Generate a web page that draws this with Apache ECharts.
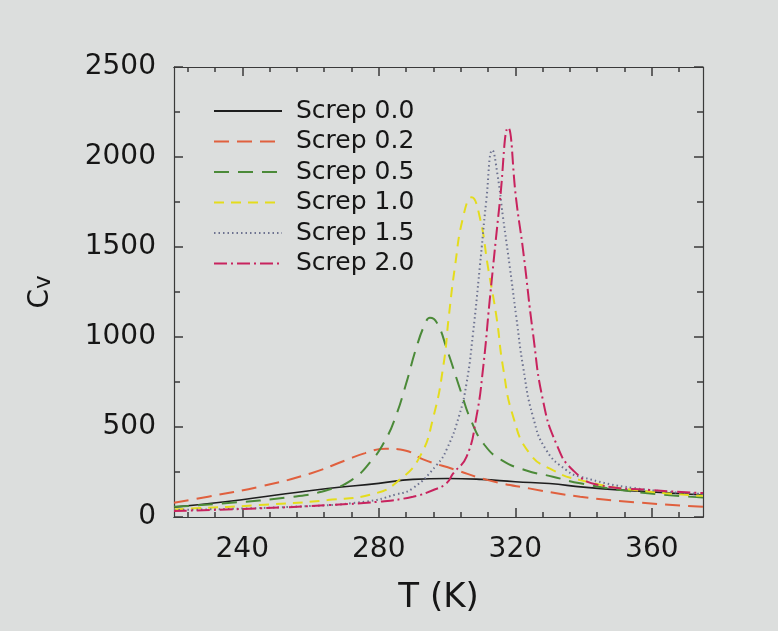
<!DOCTYPE html>
<html>
<head>
  <meta charset="utf-8" />
  <title>Cv vs T</title>
  <script src="https://cdn.jsdelivr.net/npm/echarts@6/dist/echarts.min.js"></script>
  <style>
    body { margin: 0; background: #dcdedd; }
    #chart { width: 778px; height: 631px; }
  </style>
</head>
<body>
  <div id="chart"></div>
  <script>
    // 数据: 每条曲线的温度(K)与比热 Cv
    const names = ["Screp 0.0", "Screp 0.2", "Screp 0.5", "Screp 1.0", "Screp 1.5", "Screp 2.0"]

    const T_00 = [220, 235, 250, 265, 280, 290, 300, 310, 320, 330, 340, 355, 375]
    const C_00 = [55, 85, 122, 158, 187, 209, 214, 209, 196, 186, 166, 145, 122]

    const T_02 = [220, 230, 245, 260, 270, 276, 282, 288, 293, 302, 312, 324, 339, 355, 375]
    const C_02 = [79, 113, 168, 242, 313, 355, 379, 368, 320, 265, 205, 159, 113, 82, 57]

    const T_05 = [220, 235, 255, 265, 272, 278, 282, 285, 288, 291, 293.5, 295, 297, 300, 304, 307, 311, 316, 323, 331, 339, 355, 375]
    const C_05 = [57, 76, 113, 150, 205, 316, 430, 560, 740, 940, 1070, 1107, 1080, 930, 700, 538, 400, 316, 260, 224, 187, 140, 108]

    const T_10 = [220, 226, 245, 265, 279, 286, 292, 296, 299, 300.5, 302.3, 304.7, 307.2, 309.6, 312, 314.5, 316.4, 319.4, 324.2, 331, 339, 355, 375]
    const C_10 = [42, 48, 66, 94, 131, 205, 334, 556, 850, 1110, 1388, 1665, 1776, 1665, 1388, 1110, 833, 556, 353, 260, 205, 150, 118]

    const T_15 = [220, 255, 276, 285, 290, 297, 300, 303.5, 305.7, 307.6, 309.6, 311.5, 313.3, 314.8, 316.4, 318.4, 320.3, 322.3, 325.2, 329.1, 335, 339, 355, 375]
    const C_15 = [39, 57, 85, 125, 160, 290, 380, 560, 741, 1018, 1388, 1757, 2038, 1900, 1665, 1388, 1110, 833, 556, 371, 260, 224, 160, 128]

    const T_20 = [220, 245, 265, 280, 290, 296, 299.8, 301.8, 305.7, 308.6, 310.6, 312.5, 315.5, 317.9, 320.3, 322.3, 325.2, 328.1, 332, 336.9, 344.7, 359.4, 375]
    const C_20 = [33, 48, 66, 85, 113, 150, 187, 242, 334, 556, 833, 1203, 1757, 2163, 1757, 1480, 1018, 649, 408, 260, 177, 150, 133]

    const xMajor = [240, 280, 320, 360]
    const xMinor = [224, 232, 248, 256, 264, 272, 288, 296, 304, 312, 328, 336, 344, 352, 368]

    const colors = ["#1e1e1e", "#e0603e", "#4b8a38", "#e4dc1c", "#6d7290", "#c8235e"]
    const dashes = ["solid", [15, 8], [15, 9], [10, 7], [1.5, 3], [13, 4, 2, 4]]

    const fam = "DejaVu Sans"
    const axisColor = "#3a3a3a"
    const textColor = "#161616"

    function pairs(ts, cs) {
      return ts.map((t, i) => [t, cs[i]])
    }
    const allData = [pairs(T_00, C_00), pairs(T_02, C_02), pairs(T_05, C_05), pairs(T_10, C_10), pairs(T_15, C_15), pairs(T_20, C_20)]

    function xAx(pos, ticks, len, withLabel) {
      return {
        type: "value",
        position: pos,
        min: 220,
        max: 375,
        axisLine: { show: true, lineStyle: { color: axisColor, width: 1.2 } },
        axisTick: { show: true, inside: true, length: len, customValues: ticks, lineStyle: { color: axisColor, width: 1.5 } },
        axisLabel: withLabel
          ? { show: true, customValues: xMajor, margin: 19, fontSize: 28, fontFamily: fam, color: textColor }
          : { show: false },
        splitLine: { show: false }
      }
    }

    function yAx(pos, withLabel) {
      return {
        type: "value",
        position: pos,
        min: 0,
        max: 2500,
        interval: 500,
        axisLine: { show: true, lineStyle: { color: axisColor, width: 1.2 } },
        axisTick: { show: true, inside: true, length: 9, lineStyle: { color: axisColor, width: 1.5 } },
        minorTick: { show: true, splitNumber: 2, length: 6, lineStyle: { color: axisColor, width: 1.5 } },
        axisLabel: withLabel
          ? { show: true, margin: 18, fontSize: 28, fontFamily: fam, color: textColor, formatter: (v) => String(v) }
          : { show: false },
        splitLine: { show: false }
      }
    }

    const chart = echarts.init(document.getElementById("chart"))

    const xAxes = [
      xAx("bottom", xMajor, 9, true),
      xAx("bottom", xMinor, 5, false),
      xAx("top", xMajor, 9, false),
      xAx("top", xMinor, 5, false)
    ]
    xAxes[0].name = "T (K)"
    xAxes[0].nameLocation = "middle"
    xAxes[0].nameGap = 64
    xAxes[0].nameTextStyle = { fontSize: 34, fontFamily: fam, color: textColor }

    const yAxes = [yAx("left", true), yAx("right", false)]
    yAxes[0].name = "{a|C}{b|v}"
    yAxes[0].nameLocation = "middle"
    yAxes[0].nameGap = 118
    yAxes[0].nameTextStyle = {
      fontFamily: fam,
      color: textColor,
      rich: {
        a: { fontSize: 28, fontFamily: fam, color: textColor, lineHeight: 30 },
        b: { fontSize: 23, fontFamily: fam, color: textColor, lineHeight: 22, verticalAlign: "bottom" }
      }
    }

    chart.setOption({
      backgroundColor: "#dcdedd",
      animation: false,
      grid: { left: 174, right: 75, top: 67, bottom: 114, containLabel: false },
      legend: {
        orient: "vertical",
        left: 208,
        top: 92,
        itemWidth: 68,
        itemHeight: 14,
        itemGap: 2.5,
        data: names,
        itemStyle: { opacity: 0 },
        textStyle: { fontSize: 25, fontFamily: fam, color: textColor, lineHeight: 28, padding: [0, 0, 0, 9] }
      },
      xAxis: xAxes,
      yAxis: yAxes,
      series: names.map((n, i) => ({
        name: n,
        type: "line",
        xAxisIndex: 0,
        yAxisIndex: 0,
        smooth: 0.5,
        showSymbol: false,
        symbol: "none",
        data: allData[i],
        color: colors[i],
        lineStyle: { color: colors[i], width: i === 0 ? 1.6 : 2, type: dashes[i] }
      }))
    })
  </script>
</body>
</html>
